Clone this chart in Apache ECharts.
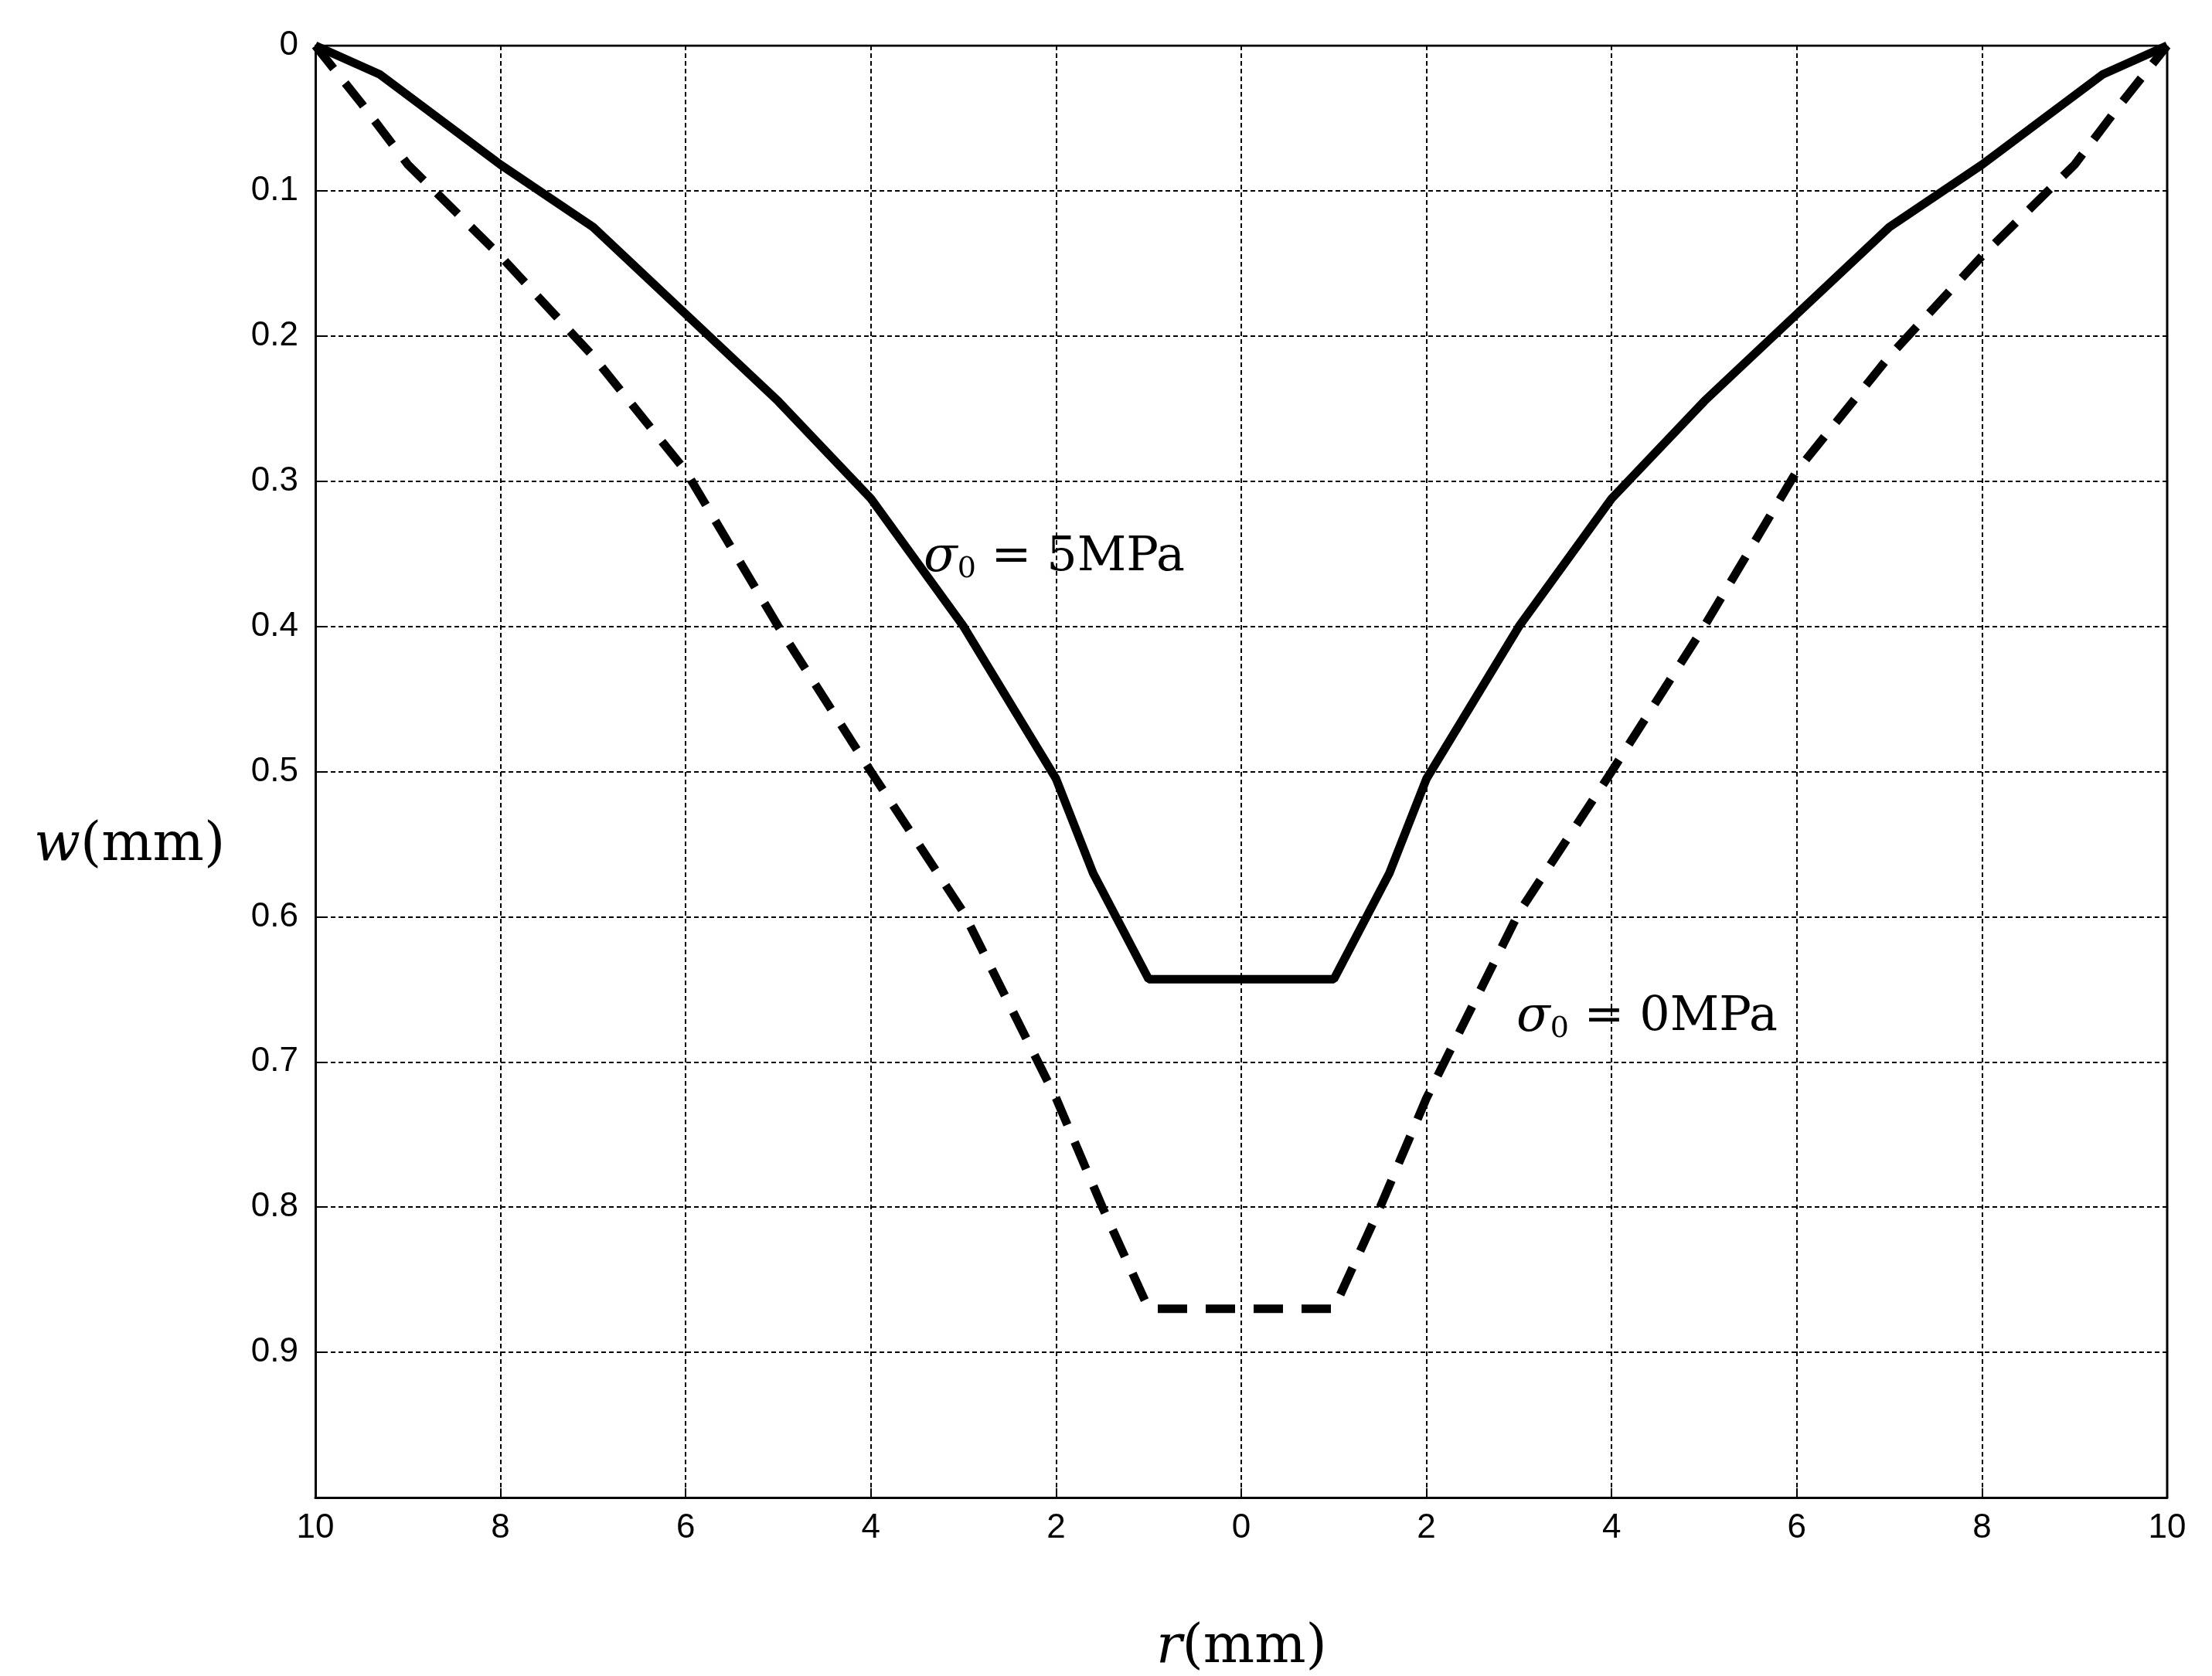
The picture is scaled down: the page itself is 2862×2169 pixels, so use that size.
<!DOCTYPE html>
<html><head><meta charset="utf-8">
<script src="https://cdn.jsdelivr.net/npm/echarts@6/dist/echarts.min.js"></script>
<style>html,body{margin:0;padding:0;background:#fff}#c{width:2862px;height:2169px}</style>
</head><body><div id="c"></div>
<script>
// radius (mm, left half going inward) and deflection w (mm)
const r5 = [10, 9.3, 8, 7, 6, 5, 4, 3, 2, 1.6, 1];
const w5 = [0, 0.02, 0.082, 0.125, 0.185, 0.245, 0.312, 0.40, 0.505, 0.57, 0.643];
const r0 = [10, 9.5, 9, 8, 7, 6, 5, 4, 3, 2, 1.5, 1];
const w0 = [0, 0.04, 0.082, 0.145, 0.214, 0.293, 0.40, 0.50, 0.597, 0.725, 0.80, 0.87];
const xTicks = [-10, -8, -6, -4, -2, 0, 2, 4, 6, 8, 10];
const yTicks = [0, 0.1, 0.2, 0.3, 0.4, 0.5, 0.6, 0.7, 0.8, 0.9];

function sym(r, w) {
  const left = r.map((v, i) => [-v, w[i]]);
  const right = r.slice().reverse().map((v, i) => [v, w[w.length - 1 - i]]);
  return left.concat(right);
}
const chart = echarts.init(document.getElementById('c'));
const tickFont = {fontFamily: 'Liberation Sans, Arial', fontSize: 44, color: '#000'};
chart.setOption({
  animation: false,
  grid: {left: 408, right: 58, top: 59, bottom: 231},
  xAxis: {type: 'value', min: -10, max: 10, interval: 2,
    axisLine: {onZero: false, lineStyle: {color: '#000', width: 3}},
    axisTick: {inside: true, length: 12, lineStyle: {color: '#000', width: 2}},
    axisLabel: Object.assign({margin: 18, formatter: v => String(Math.abs(v))}, tickFont),
    splitLine: {show: true, lineStyle: {color: '#000', type: [6, 4], width: 2}}},
  yAxis: {type: 'value', min: 0, max: 1, interval: 0.1, inverse: true,
    axisLine: {onZero: false, lineStyle: {color: '#000', width: 3}},
    axisTick: {inside: true, length: 12, lineStyle: {color: '#000', width: 2}},
    axisLabel: Object.assign({margin: 22, formatter: v => v >= 0.999 ? '' : (v === 0 ? '0' : v.toFixed(1))}, tickFont),
    splitLine: {show: true, lineStyle: {color: '#000', type: [6, 4], width: 2}}},
  series: [
    {type: 'line', data: sym(r5, w5), symbol: 'none', lineStyle: {color: '#000', width: 11}},
    {type: 'line', data: sym(r0, w0), symbol: 'none', lineStyle: {color: '#000', width: 11, type: [38, 24]}},
    {type: 'line', data: [[-10, 0], [10, 0]], symbol: 'none', silent: true, lineStyle: {color: '#000', width: 3}},
    {type: 'line', data: [[10, 0], [10, 1]], symbol: 'none', silent: true, lineStyle: {color: '#000', width: 3}}
  ],
  graphic: [
    {type: 'text', left: 1195, top: 690, style: {text: '{i|σ}{s|0} = 5MPa', rich: {
      i: {fontFamily: 'DejaVu Serif', fontStyle: 'italic', fontSize: 64}, s: {fontFamily: 'DejaVu Serif', fontSize: 38, padding: [30, 0, 0, 0]}},
      fontFamily: 'DejaVu Serif', fontSize: 62, fill: '#000'}},
    {type: 'text', left: 1962, top: 1285, style: {text: '{i|σ}{s|0} = 0MPa', rich: {
      i: {fontFamily: 'DejaVu Serif', fontStyle: 'italic', fontSize: 64}, s: {fontFamily: 'DejaVu Serif', fontSize: 38, padding: [30, 0, 0, 0]}},
      fontFamily: 'DejaVu Serif', fontSize: 62, fill: '#000'}},
    {type: 'text', left: 44, top: 1060, style: {text: '{i|w}(mm)', rich: {i: {fontFamily: 'DejaVu Serif', fontStyle: 'italic', fontSize: 70}},
      fontFamily: 'DejaVu Serif', fontSize: 70, fill: '#000'}},
    {type: 'text', left: 1496, top: 2098, style: {text: '{i|r}(mm)', rich: {i: {fontFamily: 'DejaVu Serif', fontStyle: 'italic', fontSize: 70}},
      fontFamily: 'DejaVu Serif', fontSize: 70, fill: '#000'}}
  ]
});
</script></body></html>
